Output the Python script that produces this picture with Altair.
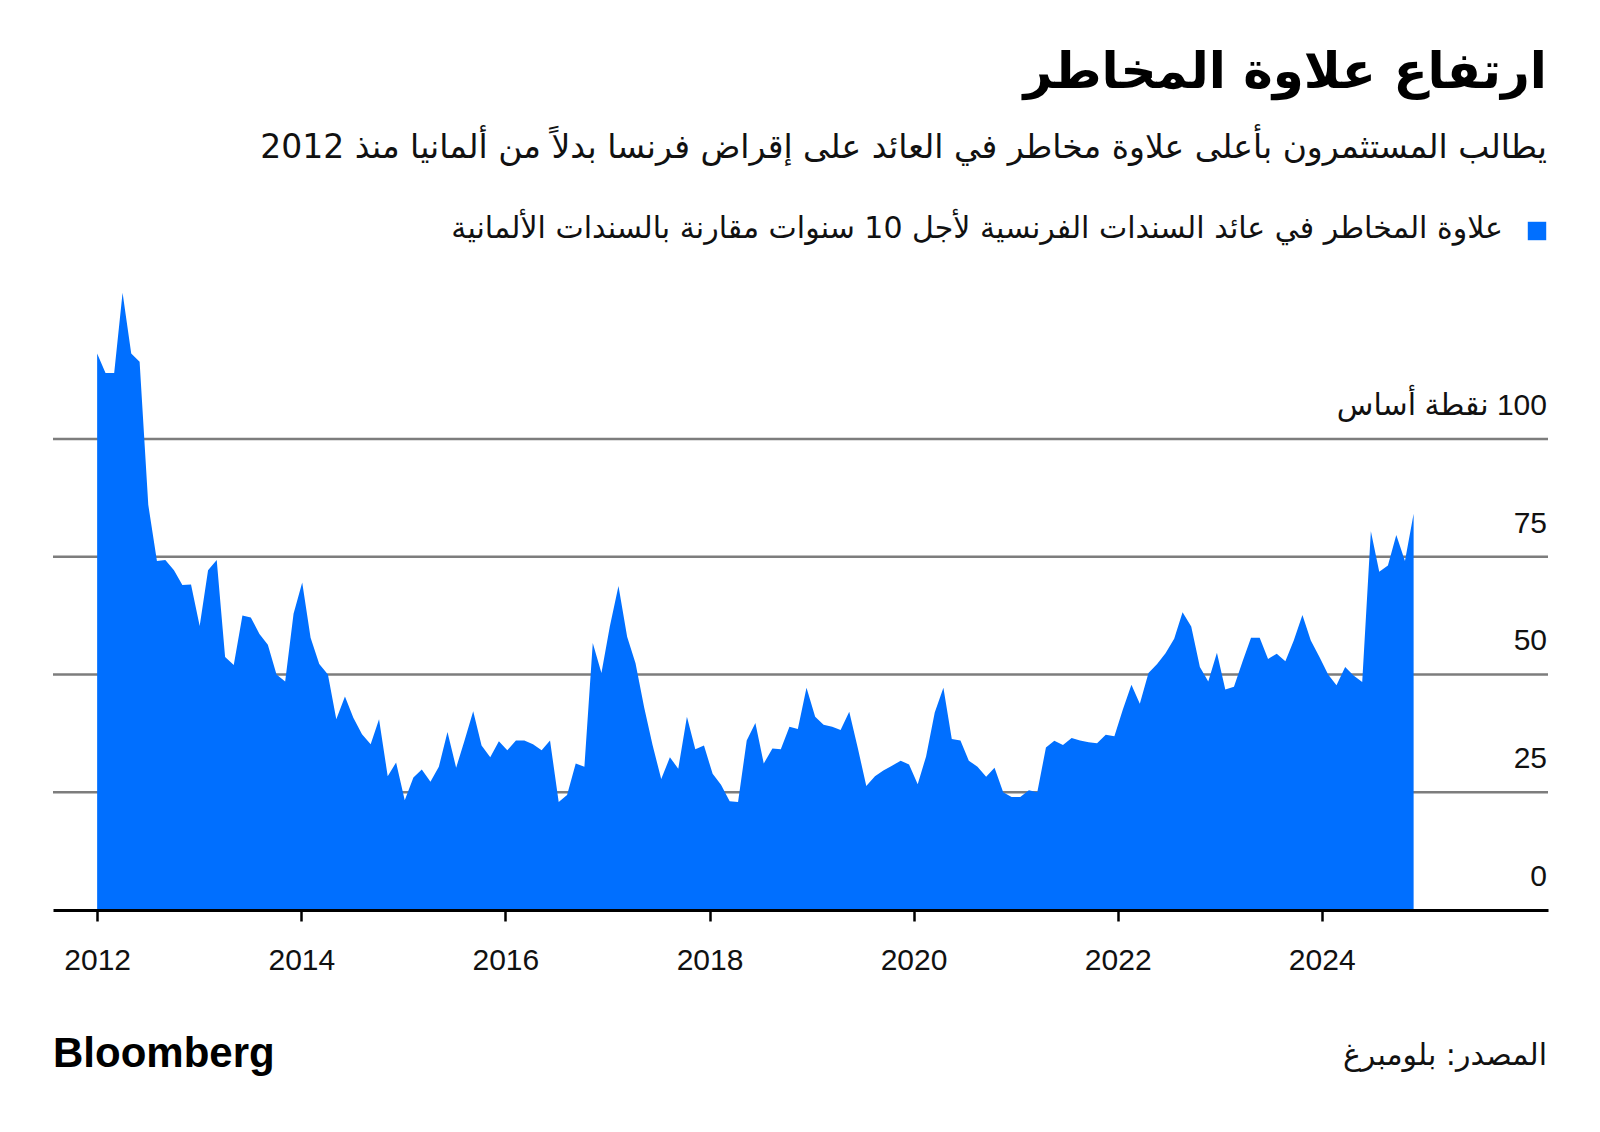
import altair as alt
import pandas as pd

# ---- data (monthly readings from Jan 2012 to late 2024, basis points) ----
spread_2012_2014 = [118.1, 114.0, 114.0, 131.0, 118.1, 116.4, 86.0, 74.1, 74.3, 72.1, 69.0, 69.1,
                    60.3, 72.1, 74.3, 53.7, 52.0, 62.5, 62.1, 58.6, 56.3, 50.0, 48.5, 62.9,
                    69.5, 57.8, 52.2, 50.0, 40.5, 45.3, 40.8, 37.3]
spread_2014_2017 = [35.2, 40.5, 28.4, 31.3, 23.3, 28.1, 29.8, 27.2, 30.4, 37.8, 30.2, 36.0,
                    42.2, 34.9, 32.4, 35.8, 33.9, 36.0, 36.0, 35.2, 33.9, 36.0, 22.9, 24.4,
                    31.1, 30.4, 56.7, 50.3, 60.2, 68.8, 58.0]
spread_2017_2019 = [52.4, 43.0, 35.0, 27.8, 32.4, 30.0, 41.0, 34.1, 34.9, 28.9, 26.6, 23.1,
                    22.9, 36.0, 39.7, 31.1, 34.3, 34.1, 38.9, 38.4, 47.2, 41.0, 39.3, 38.9,
                    38.2, 42.1, 34.3, 26.3, 28.4, 29.6, 30.6, 31.7]
spread_2019_2022 = [30.9, 26.7, 32.6, 41.9, 47.2, 36.3, 36.0, 31.7, 30.4, 28.3, 30.2, 25.0,
                    24.0, 24.0, 25.4, 25.0, 34.5, 35.9, 35.0, 36.5, 36.0, 35.6, 35.4, 37.2,
                    36.9, 42.5, 47.8, 43.8, 50.3, 52.2]
spread_2022_2024 = [54.5, 57.6, 63.2, 60.2, 51.6, 48.5, 54.6, 46.8, 47.4, 52.8, 57.8, 57.8,
                    53.3, 54.4, 52.8, 57.2, 62.6, 57.2, 53.7, 50.0, 47.7, 51.6, 49.8, 48.4,
                    80.4, 71.8, 73.1, 79.6, 74.1, 84.1]
spread = spread_2012_2014 + spread_2014_2017 + spread_2017_2019 + spread_2019_2022 + spread_2022_2024
first_date = "2012-01-01"
last_date = "2024-11-25"
dates = pd.date_range(first_date, last_date, periods=len(spread)).strftime("%Y-%m-%d").tolist()

y_tick_values = [0, 25, 50, 75, 100]
y_tick_labels = ["0", "25", "50", "75", "\u200f100 نقطة أساس"]
grid_values = [25, 50, 75, 100]
x_tick_years = [2012, 2014, 2016, 2018, 2020, 2022, 2024]

title_text = "ارتفاع علاوة المخاطر"
subtitle_text = "يطالب المستثمرون بأعلى علاوة مخاطر في العائد على إقراض فرنسا بدلاً من ألمانيا منذ 2012"
legend_text = "علاوة المخاطر في عائد السندات الفرنسية لأجل 10 سنوات مقارنة بالسندات الألمانية"
source_text = "المصدر: بلومبرغ"
brand_text = "Bloomberg"

BLUE = "#006fff"
W, H = 1495, 636
AR_FONT = "DejaVu Sans"
NUM_FONT = "Liberation Sans, DejaVu Sans"

df = pd.DataFrame({"date": dates, "spread": spread})
grid_df = pd.DataFrame({"v": grid_values})
tick_df = pd.DataFrame({"v": y_tick_values, "label": y_tick_labels})

x_scale = alt.Scale(type="utc", domain=[alt.DateTime(year=2011, month=7, date=27, utc=True),
                                        alt.DateTime(year=2026, month=3, date=21, utc=True)])
y_scale = alt.Scale(domain=[0, 135], nice=False, zero=True)

grid = alt.Chart(grid_df).mark_rule(color="#7d7d7d", strokeWidth=2.5).encode(
    y=alt.Y("v:Q", scale=y_scale, axis=None)
)

area = alt.Chart(df).mark_area(color=BLUE, opacity=1).encode(
    x=alt.X("date:T", scale=x_scale,
            axis=alt.Axis(values=[alt.DateTime(year=y, month=1, date=1, utc=True) for y in x_tick_years],
                          format="%Y", title=None, grid=False, zindex=1,
                          domainColor="#000000", domainWidth=3,
                          tickColor="#000000", tickWidth=2.5, tickSize=11,
                          labelFont="Liberation Sans", labelFontSize=30, labelColor="#111111",
                          labelPadding=24, labelFlush=False)),
    y=alt.Y("spread:Q", scale=y_scale, axis=None),
)

ylabels = alt.Chart(tick_df).mark_text(
    align="right", baseline="middle", dy=-33, fontSize=30, font=NUM_FONT, color="#111111"
).encode(
    y=alt.Y("v:Q", scale=y_scale, axis=None),
    x=alt.value(W - 1),
    text="label:N",
)

def text_layer(txt, x, y, size, align="right", weight="normal", font=AR_FONT, color="#111111"):
    return alt.Chart(pd.DataFrame({"t": [txt]})).mark_text(
        align=align, baseline="middle", fontSize=size, fontWeight=weight, font=font, color=color
    ).encode(x=alt.value(x), y=alt.value(y), text="t:N")

title = text_layer(title_text, W - 1, -201, 50, weight="bold", color="#000000")
subtitle = text_layer(subtitle_text, W - 1, -126, 33)
legend_sym = alt.Chart(pd.DataFrame({"t": [legend_text]})).mark_square(
    size=340, color=BLUE, opacity=1
).encode(x=alt.value(W - 11), y=alt.value(-43))
legend_lbl = text_layer(legend_text, W - 45, -45, 30)
source = text_layer(source_text, W - 1, 782, 30)
brand = text_layer(brand_text, 0, 780, 42, align="left", weight="bold", font="Liberation Sans", color="#000000")

chart = alt.layer(grid, area, ylabels, title, subtitle, legend_sym, legend_lbl, source, brand).properties(
    width=W, height=H,
    autosize=alt.AutoSizeParams(type="none"),
    padding={"left": 45, "top": 266, "right": 40, "bottom": 200},
    background="white",
).configure_view(stroke=None)

chart.save("out.html", embed_options={"renderer": "svg", "actions": False})
